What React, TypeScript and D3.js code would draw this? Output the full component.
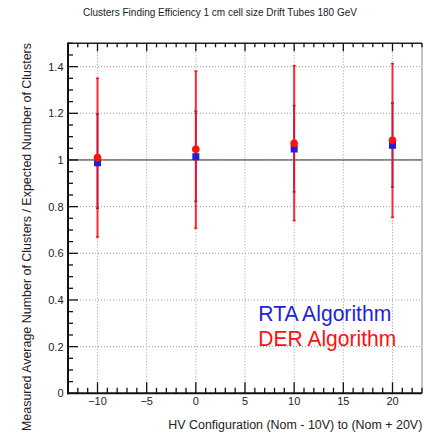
import React from "react";
import * as d3 from "d3";

const hvValues = [-10, 0, 10, 20];
const rtaValues = [0.988, 1.014, 1.047, 1.063];
const rtaLow = [0.793, 0.823, 0.863, 0.884];
const rtaHigh = [1.197, 1.209, 1.233, 1.244];
const derValues = [1.01, 1.046, 1.071, 1.084];
const derLow = [0.67, 0.707, 0.74, 0.754];
const derHigh = [1.35, 1.381, 1.404, 1.413];
const xTicks = [-10, -5, 0, 5, 10, 15, 20];
const yTicks = [0, 0.2, 0.4, 0.6, 0.8, 1, 1.2, 1.4];

const W = 424;
const H = 433;
const FONT = "'Liberation Sans', Arial, sans-serif";
const BLUE = "#1f1fd8";
const RED = "#ff1010";

export default function App() {
  const left = 68, right = 422, top = 43.3, bottom = 393.3;
  const x = d3.scaleLinear().domain([-13, 23]).range([left, right]);
  const y = d3.scaleLinear().domain([0, 1.5]).range([bottom, top]);
  const xMinor = d3.range(-13, 24, 1);
  const yMinor = d3.range(0, 1.5001, 0.05);

  return (
    <svg width={W} height={H} style={{ position: "absolute", left: 0, top: 0, background: "#fff" }}>
      <rect x={0} y={0} width={W} height={H} fill="#fff" />
      <text x={83} y={16} fontFamily={FONT} fontSize={11} fill="#222" textLength={274} lengthAdjust="spacingAndGlyphs">
        Clusters Finding Efficiency 1 cm cell size Drift Tubes 180 GeV
      </text>
      {/* grid */}
      {xTicks.map((t) => (
        <line key={"gx" + t} x1={x(t)} x2={x(t)} y1={top} y2={bottom} stroke="#999" strokeWidth={1} strokeDasharray="1,2" />
      ))}
      {yTicks.filter((t) => t > 0).map((t) => (
        <line key={"gy" + t} x1={left} x2={right} y1={y(t)} y2={y(t)} stroke="#999" strokeWidth={1} strokeDasharray="1,2" />
      ))}
      {/* unity line */}
      <line x1={left} x2={right} y1={y(1)} y2={y(1)} stroke="#333" strokeWidth={1} />
      {/* frame */}
      <line x1={right} x2={right} y1={top} y2={bottom} stroke="#888" strokeWidth={1} />
      <line x1={left} x2={right} y1={top} y2={top} stroke="#222" strokeWidth={1.5} />
      <line x1={left} x2={left} y1={top - 0.75} y2={bottom + 1} stroke="#111" strokeWidth={2} />
      <line x1={left - 1} x2={right} y1={bottom} y2={bottom} stroke="#111" strokeWidth={2} />
      {/* x ticks */}
      {xMinor.map((t) => {
        const major = t % 5 === 0;
        return (
          <g key={"xt" + t}>
            <line x1={x(t)} x2={x(t)} y1={bottom} y2={bottom - (major ? 11 : 5.5)} stroke="#111" strokeWidth={1.3} />
            <line x1={x(t)} x2={x(t)} y1={top} y2={top + (major ? 8 : 4)} stroke="#111" strokeWidth={1.3} />
          </g>
        );
      })}
      {xTicks.map((t) => (
        <text key={"xl" + t} x={x(t)} y={404.5} textAnchor="middle" fontFamily={FONT} fontSize={11} fill="#222">
          {t < 0 ? "\u2212" + Math.abs(t) : String(t)}
        </text>
      ))}
      {/* y ticks */}
      {yMinor.map((t, i) => {
        const major = i % 4 === 0;
        return (
          <line key={"yt" + i} x1={left} x2={left + (major ? 10 : 5)} y1={y(t)} y2={y(t)} stroke="#111" strokeWidth={1.3} />
        );
      })}
      {yTicks.map((t) => (
        <text key={"yl" + t} x={63.5} y={y(t) + 4} textAnchor="end" fontFamily={FONT} fontSize={11} fill="#222">
          {String(+t.toFixed(1))}
        </text>
      ))}
      {/* axis titles */}
      <text x={168.3} y={429} fontFamily={FONT} fontSize={12} fill="#222" textLength={254} lengthAdjust="spacingAndGlyphs">
        HV Configuration (Nom - 10V) to (Nom + 20V)
      </text>
      <text
        transform={`translate(30.5, 431) rotate(-90)`}
        fontFamily={FONT}
        fontSize={12.3}
        fill="#222"
        textLength={388}
        lengthAdjust="spacingAndGlyphs"
      >
        Measured Average Number of Clusters / Expected Number of Clusters
      </text>
      {/* RTA error bars */}
      {hvValues.map((v, i) => (
        <g key={"rb" + i}>
          <line x1={x(v)} x2={x(v)} y1={y(rtaLow[i])} y2={y(rtaHigh[i])} stroke={BLUE} strokeWidth={1.6} />
          <line x1={x(v) - 1.5} x2={x(v) + 1.5} y1={y(rtaLow[i])} y2={y(rtaLow[i])} stroke={BLUE} strokeWidth={1.5} />
          <line x1={x(v) - 1.5} x2={x(v) + 1.5} y1={y(rtaHigh[i])} y2={y(rtaHigh[i])} stroke={BLUE} strokeWidth={1.5} />
        </g>
      ))}
      {/* DER error bars */}
      {hvValues.map((v, i) => (
        <g key={"db" + i}>
          <line x1={x(v)} x2={x(v)} y1={y(derLow[i])} y2={y(derHigh[i])} stroke={RED} strokeWidth={2} opacity={0.88} />
          <line x1={x(v) - 1.5} x2={x(v) + 1.5} y1={y(derLow[i])} y2={y(derLow[i])} stroke={RED} strokeWidth={1.5} />
          <line x1={x(v) - 1.5} x2={x(v) + 1.5} y1={y(derHigh[i])} y2={y(derHigh[i])} stroke={RED} strokeWidth={1.5} />
        </g>
      ))}
      {/* RTA markers */}
      {hvValues.map((v, i) => (
        <rect key={"rm" + i} x={x(v) - 3.5} y={y(rtaValues[i]) - 3.5} width={7} height={7} fill={BLUE} />
      ))}
      {/* DER markers */}
      {hvValues.map((v, i) => (
        <circle key={"dm" + i} cx={x(v)} cy={y(derValues[i])} r={3.8} fill={RED} />
      ))}
      {/* legend */}
      <text x={258.3} y={321} fontFamily={FONT} fontSize={22} fill={BLUE} textLength={133} lengthAdjust="spacingAndGlyphs">
        RTA Algorithm
      </text>
      <text x={258.3} y={346} fontFamily={FONT} fontSize={22} fill={RED} textLength={138} lengthAdjust="spacingAndGlyphs">
        DER Algorithm
      </text>
    </svg>
  );
}
